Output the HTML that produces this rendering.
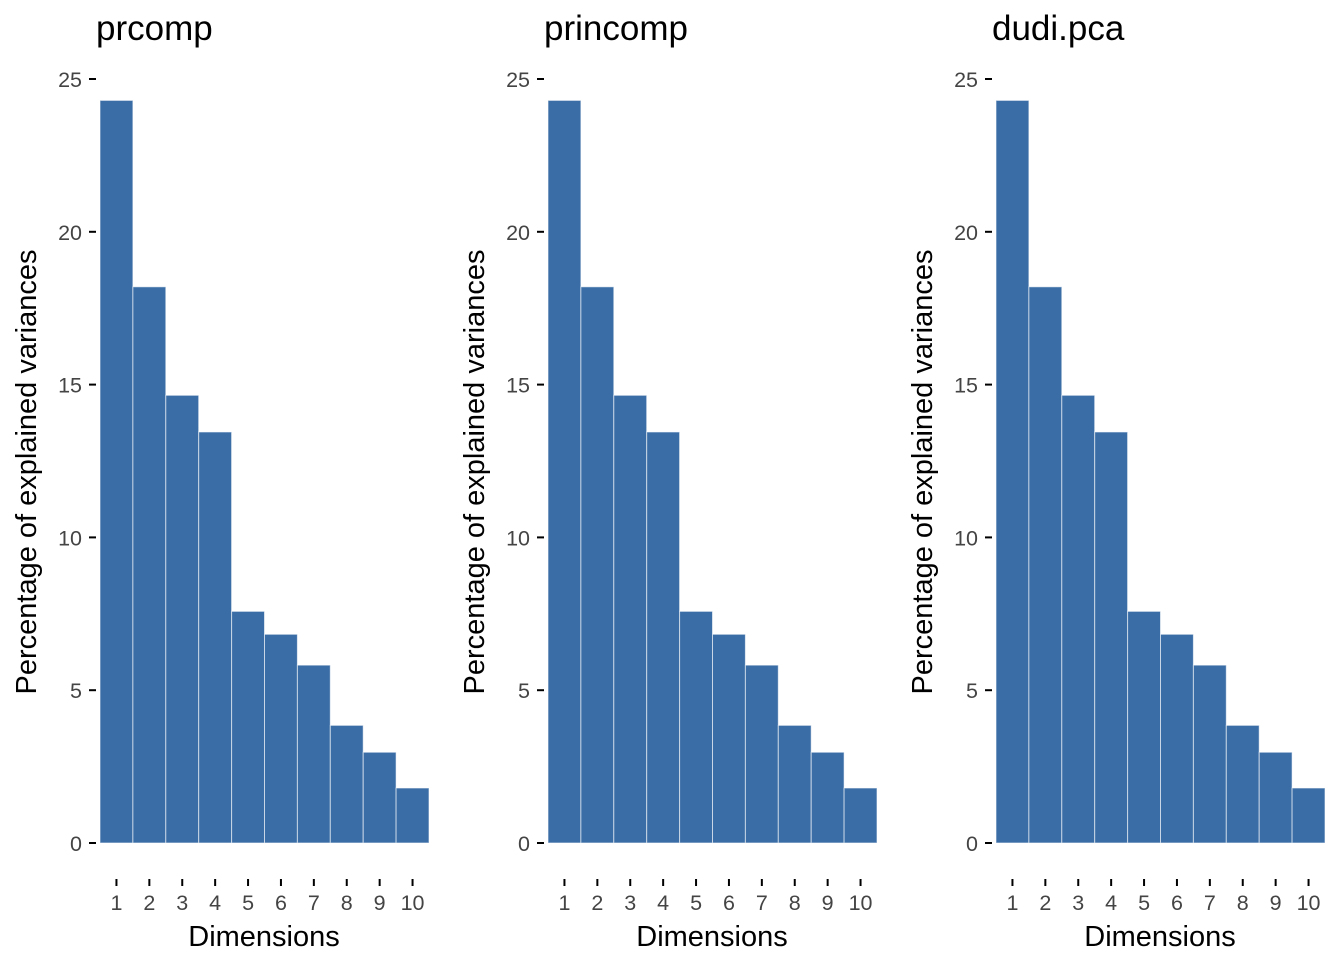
<!DOCTYPE html>
<html><head><meta charset="utf-8"><style>
body{margin:0;background:#fff;}
svg{display:block;font-family:"Liberation Sans",Arial,sans-serif;}
</style></head><body>
<svg id="c" width="1344" height="960" xmlns="http://www.w3.org/2000/svg"></svg>
<script>
const titles = ["prcomp", "princomp", "dudi.pca"];
const categories = ["1","2","3","4","5","6","7","8","9","10"];
const values = [24.3, 18.2, 14.65, 13.45, 7.58, 6.83, 5.82, 3.85, 2.97, 1.8];
const yTicks = [0, 5, 10, 15, 20, 25];

const svg = document.getElementById('c');
const NS = 'http://www.w3.org/2000/svg';
function mk(tag, attrs, parent){const e=document.createElementNS(NS,tag);for(const k in attrs)e.setAttribute(k,attrs[k]);parent.appendChild(e);return e;}
const x0 = 100, x1 = 429, y0 = 843, yTop = 79;
const bw = (x1 - x0) / categories.length;
function yS(v){return y0 - v * (y0 - yTop) / 25;}
function xS(i){return x0 + i * bw;}

titles.forEach((t, p) => {
  const g = mk('g', {transform: 'translate(' + (p * 448) + ',0)'}, svg);
  
  
  const tt = mk('text', {x: 96, y: 40, 'font-size': 35, fill: '#000'}, g);
  
  
  tt.textContent = t;
  values.forEach((v, i) => {
    const r = mk('rect', {x: xS(i), y: yS(v), width: bw, height: y0 - yS(v), fill: '#3A6DA6', stroke: '#ffffff', 'stroke-opacity': 0.6, 'stroke-width': 1}, g);
    
    
  });
  yTicks.forEach(v => {
    const l = mk('line', {x1: 89, x2: 96, y1: yS(v), y2: yS(v), stroke: '#000', 'stroke-width': 2}, g);
    
    
    const tx = mk('text', {x: 82, y: yS(v) + 8, 'font-size': 21.5, fill: '#444', 'text-anchor': 'end'}, g);
    
    
    tx.textContent = v;
  });
  categories.forEach((c, i) => {
    const cx = xS(i) + bw / 2;
    const l = mk('line', {x1: cx, x2: cx, y1: 879, y2: 886, stroke: '#000', 'stroke-width': 2}, g);
    
    
    const tx = mk('text', {x: cx, y: 910, 'font-size': 21.5, fill: '#444', 'text-anchor': 'middle'}, g);
    
    
    tx.textContent = c;
  });
  const xt = mk('text', {x: 264, y: 946, 'font-size': 29, fill: '#000', 'text-anchor': 'middle'}, g);
  
  
  xt.textContent = 'Dimensions';
  const yt = mk('text', {x: 0, y: 0, 'font-size': 29, fill: '#000', 'text-anchor': 'middle', transform: 'translate(36,472) rotate(-90)'}, g);
  
  
  yt.textContent = 'Percentage of explained variances';
});
</script>
</body></html>
